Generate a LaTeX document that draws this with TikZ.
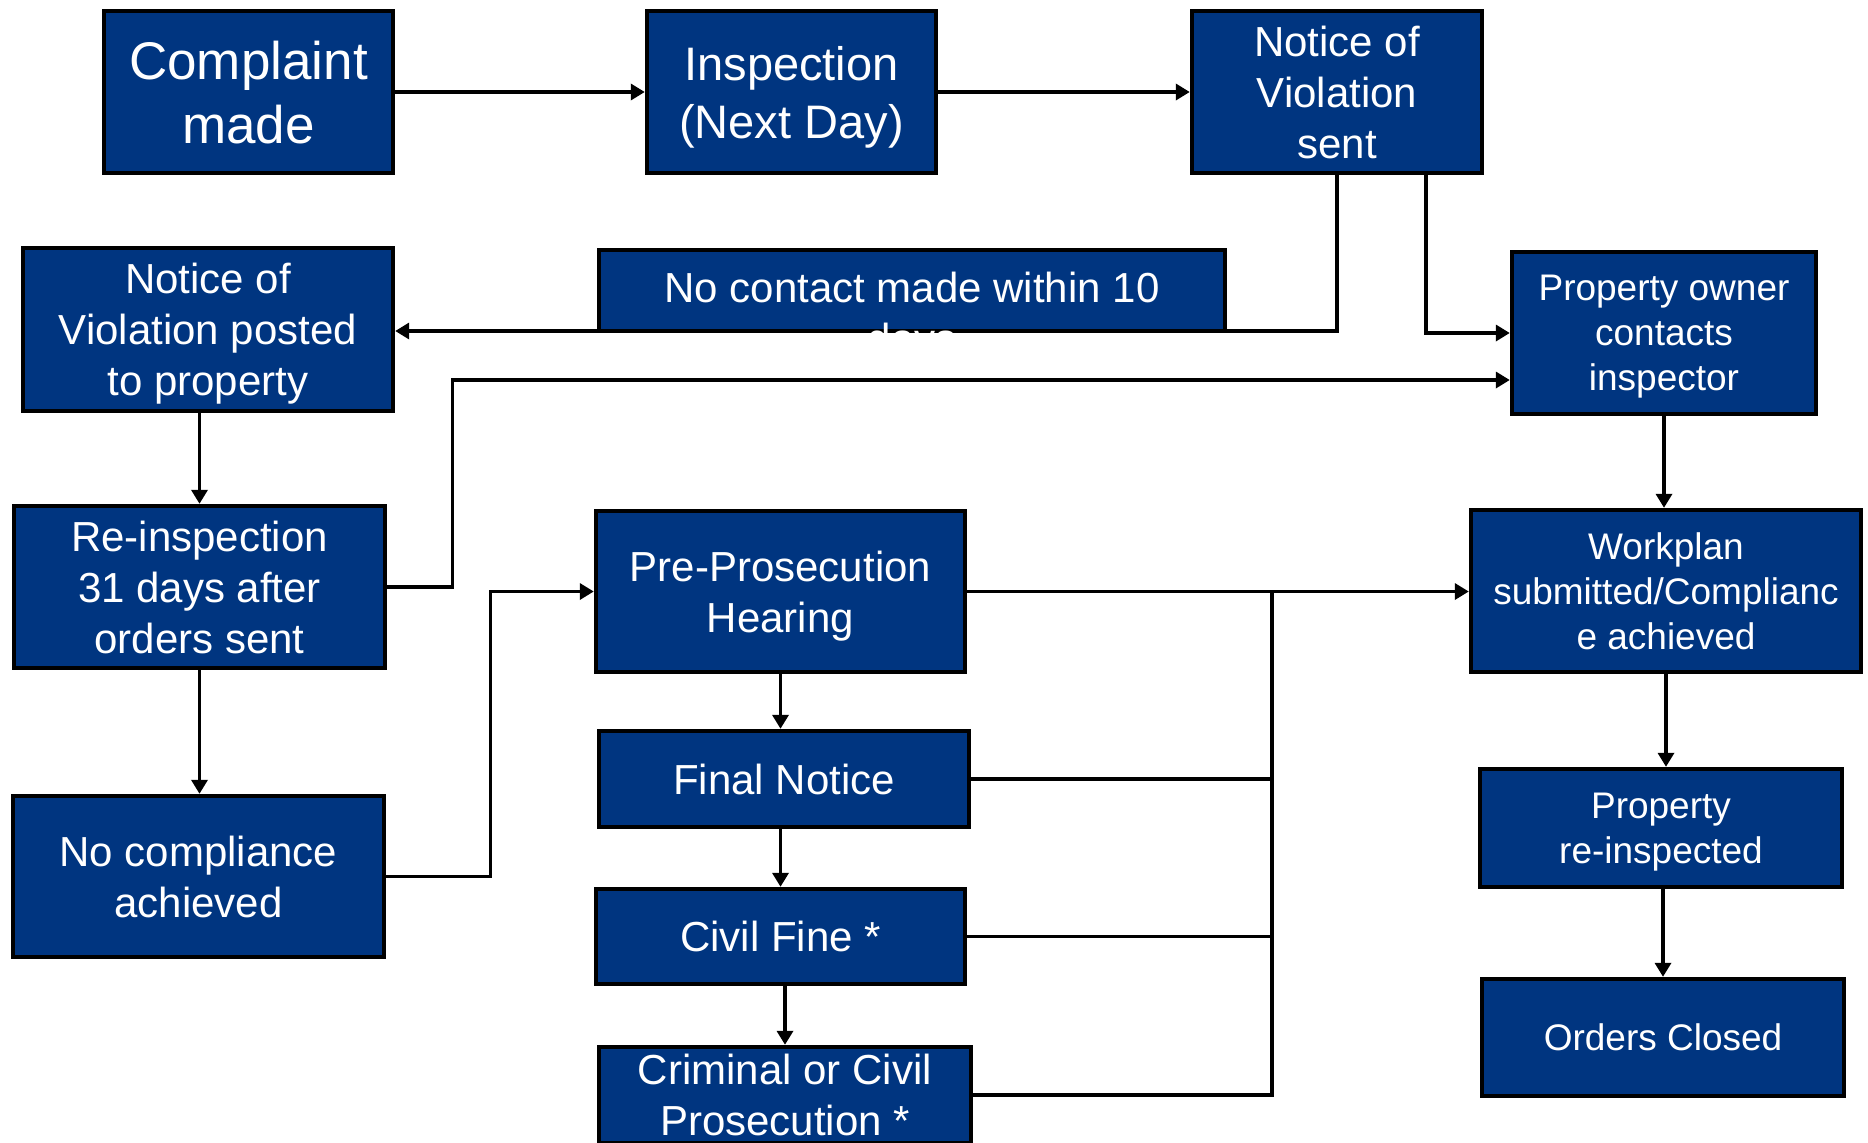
\documentclass[tikz,border=0pt]{standalone}
\usepackage{fontspec}
\setmainfont{Liberation Sans}
\usetikzlibrary{arrows.meta}
\definecolor{boxblue}{RGB}{0,53,128}

\begin{document}
\begin{tikzpicture}[x=0.5pt,y=-0.5pt]
\tikzset{stage/.style={draw, line width=2.2pt, fill=boxblue, text=white, align=center, inner sep=0pt, text depth=0pt},
  bigtext/.style={font=\fontsize{26.5}{32}\selectfont},
  midtext/.style={font=\fontsize{23.5}{29}\selectfont},
  stdtext/.style={font=\fontsize{21}{25.5}\selectfont},
  smalltext/.style={font=\fontsize{18.5}{22.5}\selectfont},
  flow/.style={line width=1.7pt, -{Triangle[length=7pt,width=8pt]}},
  link/.style={line width=1.7pt}}
\useasboundingbox (0,0) rectangle (1868,1142);

\node[stage, bigtext, minimum width=144.5pt, minimum height=81pt] (complaint) at (248.5,92) {Complaint\\made};
\node[stage, midtext, minimum width=144.5pt, minimum height=81pt] (inspection) at (791.5,92) {Inspection\\(Next Day)};
\node[stage, stdtext, minimum width=145pt, minimum height=81pt] (novsent) at (1337,92) {Notice of\\Violation\\sent};
\node[stage, stdtext, minimum width=185pt, minimum height=81.5pt] (novposted) at (208,329.5) {Notice of\\Violation posted\\to property};
\node[stage, minimum width=313pt, minimum height=40.5pt] (nocontact) at (912,290.5) {};
\node[stage, smalltext, minimum width=152pt, minimum height=81pt] (owner) at (1664,333) {Property owner\\contacts\\inspector};
\node[stage, stdtext, minimum width=185.5pt, minimum height=81pt] (reinsp) at (199.5,587) {Re-inspection\\31 days after\\orders sent};
\node[stage, stdtext, minimum width=184.5pt, minimum height=80.5pt] (preprose) at (780.5,591.5) {Pre-Prosecution\\Hearing};
\node[stage, smalltext, minimum width=195pt, minimum height=81pt] (workplan) at (1666,591) {Workplan\\submitted/Complianc\\e achieved};
\node[stage, stdtext, minimum width=185pt, minimum height=48pt] (finalnotice) at (784,779) {Final Notice};
\node[stage, stdtext, minimum width=185.5pt, minimum height=80.5pt] (nocompl) at (198.5,876.5) {No compliance\\achieved};
\node[stage, stdtext, minimum width=184.5pt, minimum height=47.5pt] (civilfine) at (780.5,936.5) {Civil Fine *};
\node[stage, smalltext, minimum width=181pt, minimum height=59pt] (propreinsp) at (1661,828) {Property\\re-inspected};
\node[stage, smalltext, minimum width=181pt, minimum height=58.5pt] (ordersclosed) at (1663,1037.5) {Orders Closed};
\node[stage, stdtext, minimum width=186pt, minimum height=48pt] (criminal) at (785,1095) {Criminal or Civil\\Prosecution *};
\coordinate (merge) at (1272,591);

\draw[flow] (complaint) -- (inspection);
\draw[flow] (inspection) -- (novsent);
\draw[flow] (novsent) |- ([yshift=-0.75pt]novposted.east);
\draw[flow] ([xshift=44.5pt]novsent.south) |- (owner);
\draw[flow] (novposted.south -| reinsp) -- (reinsp);
\draw[flow] (reinsp.east) -- ++(65,0) |- ([yshift=-23.5pt]owner.west);
\draw[flow] (reinsp) -- (reinsp |- nocompl.north);
\draw[flow] (nocompl.east) -- ++(104,0) |- (preprose);
\draw[flow] (preprose) -- (preprose -| workplan.west);
\draw[link] (finalnotice) -| (merge);
\draw[link] (civilfine) -| (merge);
\draw[link] (criminal) -| (merge);
\draw[flow] (preprose) -- (preprose |- finalnotice.north);
\draw[flow] (finalnotice.south -| civilfine) -- (civilfine);
\draw[flow] (civilfine.south -| criminal) -- (criminal);
\draw[flow] (owner) -- (owner |- workplan.north);
\draw[flow] (workplan) -- (workplan |- propreinsp.north);
\draw[flow] (propreinsp.south -| ordersclosed) -- (ordersclosed);

\node[stdtext, text=white, align=center, anchor=north, inner sep=0pt] at (912,272) {No contact made within 10\\days};
\end{tikzpicture}
\end{document}
